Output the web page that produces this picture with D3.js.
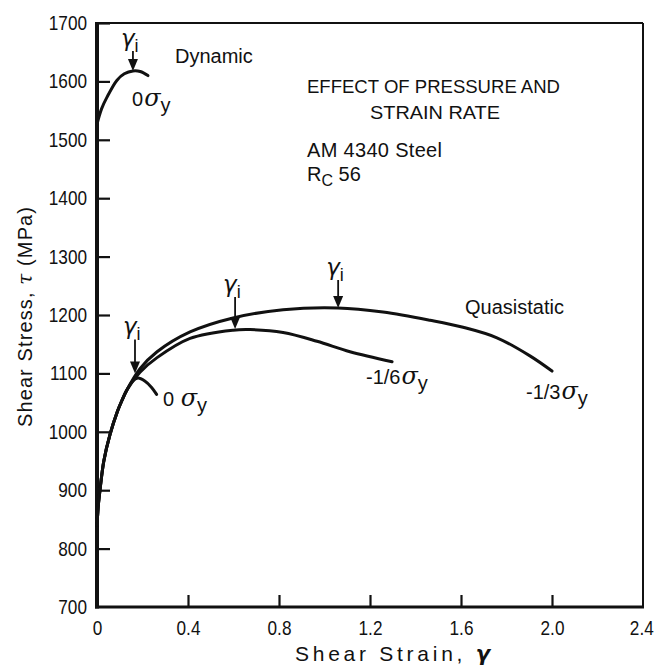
<!DOCTYPE html>
<html><head><meta charset="utf-8">
<script src="https://cdn.jsdelivr.net/npm/d3@7"></script>
<style>
body{margin:0;background:#fff;}
svg text{font-family:"Liberation Sans",Arial,sans-serif;fill:#111;}
</style></head>
<body><svg id="c" width="655" height="667"></svg>
<script>
// ---- data ----
const xTicks = [0, 0.4, 0.8, 1.2, 1.6, 2.0, 2.4];
const xTickLabels = ["0", "0.4", "0.8", "1.2", "1.6", "2.0", "2.4"];
const yTicks = [700, 800, 900, 1000, 1100, 1200, 1300, 1400, 1500, 1600, 1700];
const yTickLabels = ["700", "800", "900", "1000", "1100", "1200", "1300", "1400", "1500", "1600", "1700"];

const dynStrain = [0, 0.02, 0.044, 0.088, 0.12, 0.158, 0.19, 0.224];
const dynStress = [1527, 1553, 1573, 1602, 1613, 1618, 1617, 1610];

const q0Strain = [0, 0.006, 0.013, 0.03, 0.057, 0.09, 0.11, 0.132, 0.155, 0.18, 0.21, 0.24, 0.262];
const q0Stress = [840, 875, 900, 950, 995, 1035, 1054, 1072, 1086, 1092, 1087, 1076, 1064];

const q6Strain = [0, 0.006, 0.013, 0.03, 0.057, 0.09, 0.11, 0.132, 0.189, 0.264, 0.409, 0.598, 0.673, 0.818, 0.967, 1.112, 1.297];
const q6Stress = [840, 875, 900, 950, 995, 1035, 1054, 1072, 1102, 1127, 1160, 1174, 1175, 1170, 1155, 1137, 1120];

const q3Strain = [0, 0.006, 0.013, 0.03, 0.057, 0.09, 0.11, 0.132, 0.189, 0.264, 0.409, 0.598, 0.818, 1.059, 1.257, 1.464, 1.609, 1.758, 1.903, 2.0];
const q3Stress = [840, 875, 900, 950, 995, 1035, 1054, 1072, 1108, 1137, 1171, 1195, 1209, 1212, 1205, 1191, 1179, 1161, 1130, 1104];

// gamma_i markers (strain, stress at arrow tip)
const arrowStrain = [0.158, 0.167, 0.607, 1.06];
const arrowStress = [1618, 1100, 1176, 1212];

// ---- drawing ----
const svg = d3.select("#c");
const x = d3.scaleLinear().domain([0, 2.4]).range([97, 643]);
const y = d3.scaleLinear().domain([700, 1700]).range([607, 23]);

const FF = '"Liberation Sans",Arial,sans-serif';
const tickFont = 20, font = 20, sx = 0.86;

// axes
const gx = svg.append("g").attr("transform", "translate(0,607)")
  .call(d3.axisBottom(x).tickValues(xTicks).tickFormat((d, i) => xTickLabels[i]).tickSize(-12).tickPadding(14));
const gy = svg.append("g").attr("transform", "translate(97,0)")
  .call(d3.axisLeft(y).tickValues(yTicks).tickFormat((d, i) => yTickLabels[i]).tickSize(-13).tickPadding(10 / sx));
[gx, gy].forEach(g => {
  g.select(".domain").remove();
  g.selectAll(".tick line").attr("stroke", "#111").attr("stroke-width", 2.2);
  g.selectAll(".tick text").attr("font-size", tickFont).attr("fill", "#111").style("font-family", FF)
    .attr("transform", `scale(${sx},1)`);
});
gx.selectAll(".tick").filter(d => d === 0 || d === 2.4).select("line").remove();
gx.selectAll(".tick").filter(d => d === 2.4).select("text").attr("dx", -2);
gy.selectAll(".tick").filter(d => d === 700).select("line").remove();

// frame
const frame = svg.append("g").attr("stroke", "#111").attr("fill", "none");
frame.append("line").attr("x1", x(0)).attr("x2", x(0)).attr("y1", y(1700) - 1).attr("y2", y(700) + 1.5).attr("stroke-width", 4);
frame.append("line").attr("x1", x(0) - 2).attr("x2", x(2.4) + 1).attr("y1", y(700)).attr("y2", y(700)).attr("stroke-width", 3);
frame.append("line").attr("x1", x(0)).attr("x2", x(2.4)).attr("y1", y(1700)).attr("y2", y(1700)).attr("stroke-width", 2);
frame.append("line").attr("x1", x(2.4)).attr("x2", x(2.4)).attr("y1", y(1700)).attr("y2", y(700)).attr("stroke-width", 2);

// curves
const line = d3.line().x(d => x(d[0])).y(d => y(d[1])).curve(d3.curveCatmullRom.alpha(0.5));
const series = [
  [dynStrain, dynStress],
  [q3Strain, q3Stress],
  [q6Strain, q6Stress],
  [q0Strain, q0Stress]
];
series.forEach(([sxs, sys]) => {
  svg.append("path").datum(sxs.map((v, i) => [v, sys[i]]))
    .attr("d", line).attr("fill", "none").attr("stroke", "#111").attr("stroke-width", 3)
    .attr("stroke-linecap", "round");
});

// arrows with gamma_i labels
const arrowLen = [20, 34, 32, 28];
arrowStrain.forEach((g, i) => {
  const ax = x(g), tip = y(arrowStress[i]), top = tip - arrowLen[i];
  svg.append("line").attr("x1", ax).attr("x2", ax).attr("y1", top).attr("y2", tip - 6)
    .attr("stroke", "#111").attr("stroke-width", 1.8);
  svg.append("path").attr("d", `M${ax - 5},${tip - 12}L${ax + 5},${tip - 12}L${ax},${tip}Z`).attr("fill", "#111");
  const t = svg.append("text").attr("x", ax - 12).attr("y", top - 5).attr("font-size", 23)
    .attr("text-anchor", "start");
  t.append("tspan").text("γ").style("font-family", '"DejaVu Sans",sans-serif').attr("font-style", "italic");
  t.append("tspan").text("i").attr("font-size", 18).attr("dy", 6);
});

// curve labels
function sigmaLabel(px, py, prefix) {
  const t = svg.append("text").attr("x", px).attr("y", py).attr("font-size", font);
  t.append("tspan").text(prefix);
  t.append("tspan").text("σ").attr("font-size", 24).style("font-family", '"DejaVu Serif",serif').attr("font-style", "italic").attr("dx", 1);
  t.append("tspan").text("y").attr("font-size", 20).attr("dy", 6);
}
sigmaLabel(132, 106, "0");
sigmaLabel(163, 406, "0 ");
sigmaLabel(366, 384, "-1/6");
sigmaLabel(526, 399, "-1/3");

svg.append("text").attr("x", 175).attr("y", 63).attr("font-size", font).text("Dynamic");
svg.append("text").attr("x", 465).attr("y", 314).attr("font-size", font).text("Quasistatic");

// annotation block
svg.append("text").attr("x", 307).attr("y", 93).attr("font-size", 19).attr("textLength", 253).attr("lengthAdjust", "spacingAndGlyphs").text("EFFECT OF PRESSURE AND");
svg.append("text").attr("x", 370).attr("y", 119).attr("font-size", 19).attr("textLength", 130).attr("lengthAdjust", "spacingAndGlyphs").text("STRAIN RATE");
svg.append("text").attr("x", 307).attr("y", 157).attr("font-size", font).attr("textLength", 135).attr("lengthAdjust", "spacing").text("AM 4340 Steel");
const rc = svg.append("text").attr("x", 307).attr("y", 181).attr("font-size", font);
rc.append("tspan").text("R");
rc.append("tspan").text("C").attr("font-size", 16).attr("dy", 5);
rc.append("tspan").text(" 56").attr("dy", -5);

// axis titles
const xt = svg.append("text").attr("x", 295).attr("y", 661).attr("font-size", 21)
  .attr("textLength", 195).attr("lengthAdjust", "spacing");
xt.append("tspan").text("Shear Strain, ");
xt.append("tspan").text("γ").style("font-family", '"DejaVu Sans",sans-serif').attr("font-style", "italic").attr("font-weight", "bold");
const yt = svg.append("text").attr("transform", "translate(32,427) rotate(-90)").attr("font-size", font)
  .attr("textLength", 220).attr("lengthAdjust", "spacing");
yt.append("tspan").text("Shear Stress, ");
yt.append("tspan").text("τ").style("font-family", '"DejaVu Serif",serif').attr("font-style", "italic");
yt.append("tspan").text(" (MPa)");
</script></body></html>
